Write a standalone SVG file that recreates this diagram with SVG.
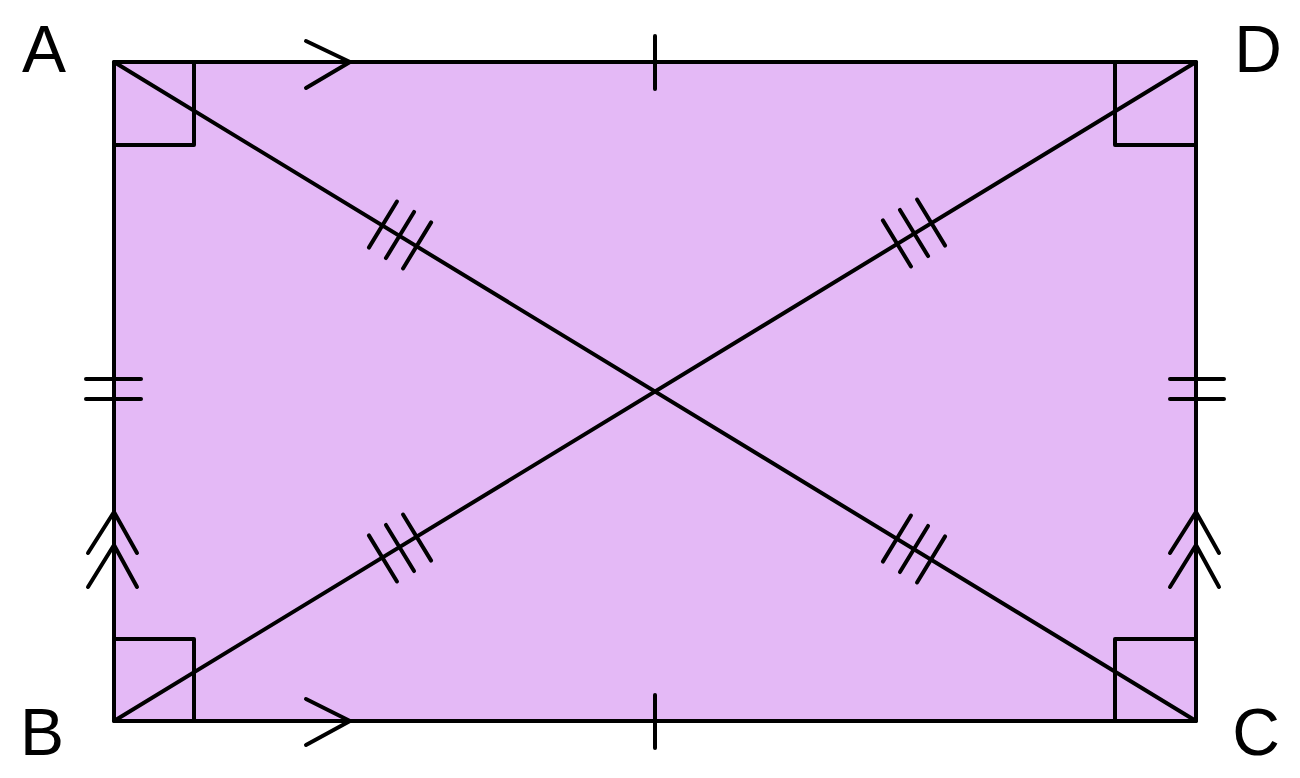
<svg xmlns="http://www.w3.org/2000/svg" width="1300" height="778" viewBox="0 0 1300 778">
<style>
.s{stroke:#000;stroke-width:4;fill:none;stroke-linecap:round;stroke-linejoin:round}
.lbl{font-family:"Liberation Sans",Arial,sans-serif;font-size:66px;fill:#000}
</style>
<defs>
<g id="tri" class="s"><line x1="-20" y1="-27" x2="-20" y2="27"/><line x1="0" y1="-27" x2="0" y2="27"/><line x1="20" y1="-27" x2="20" y2="27"/></g>
<path id="dbl" class="s" d="M-26,41 L0,0 L23,41 M-26,75 L0,33 L23,75"/>
</defs>
<rect width="1300" height="778" fill="#fff"/>
<g id="rect">
<rect x="114" y="62" width="1082" height="659" fill="#e4b9f6" stroke="#000" stroke-width="4" stroke-linejoin="round"/>
</g>
<g id="connectors" class="s">
<line x1="114" y1="62" x2="1196" y2="721"/>
<line x1="114" y1="721" x2="1196" y2="62"/>
<path d="M114,145 H194 V62"/>
<path d="M1196,145 H1115 V62"/>
<path d="M114,639 H194 V721"/>
<path d="M1196,639 H1115 V721"/>
<path d="M306,41 L350,62 L306,88"/>
<path d="M306,699 L350,721 L306,745"/>
<line x1="655" y1="36" x2="655" y2="89"/>
<line x1="655" y1="695" x2="655" y2="748"/>
<line x1="86" y1="379" x2="141" y2="379"/>
<line x1="86" y1="399" x2="141" y2="399"/>
<line x1="1170" y1="379" x2="1224" y2="379"/>
<line x1="1170" y1="399" x2="1224" y2="399"/>
</g>
<use href="#dbl" x="114" y="512"/>
<use href="#dbl" x="1196" y="512"/>
<use href="#tri" transform="translate(400,235) rotate(31.34)"/>
<use href="#tri" transform="translate(914,549) rotate(31.34)"/>
<use href="#tri" transform="translate(914,233) rotate(-31.34)"/>
<use href="#tri" transform="translate(400,548) rotate(-31.34)"/>
<g id="A"><text class="lbl" x="44" y="72" text-anchor="middle">A</text></g>
<g id="D"><text class="lbl" x="1258" y="72" text-anchor="middle">D</text></g>
<g id="B"><text class="lbl" x="42" y="755" text-anchor="middle">B</text></g>
<g id="C"><text class="lbl" x="1256" y="755" text-anchor="middle">C</text></g>
</svg>
